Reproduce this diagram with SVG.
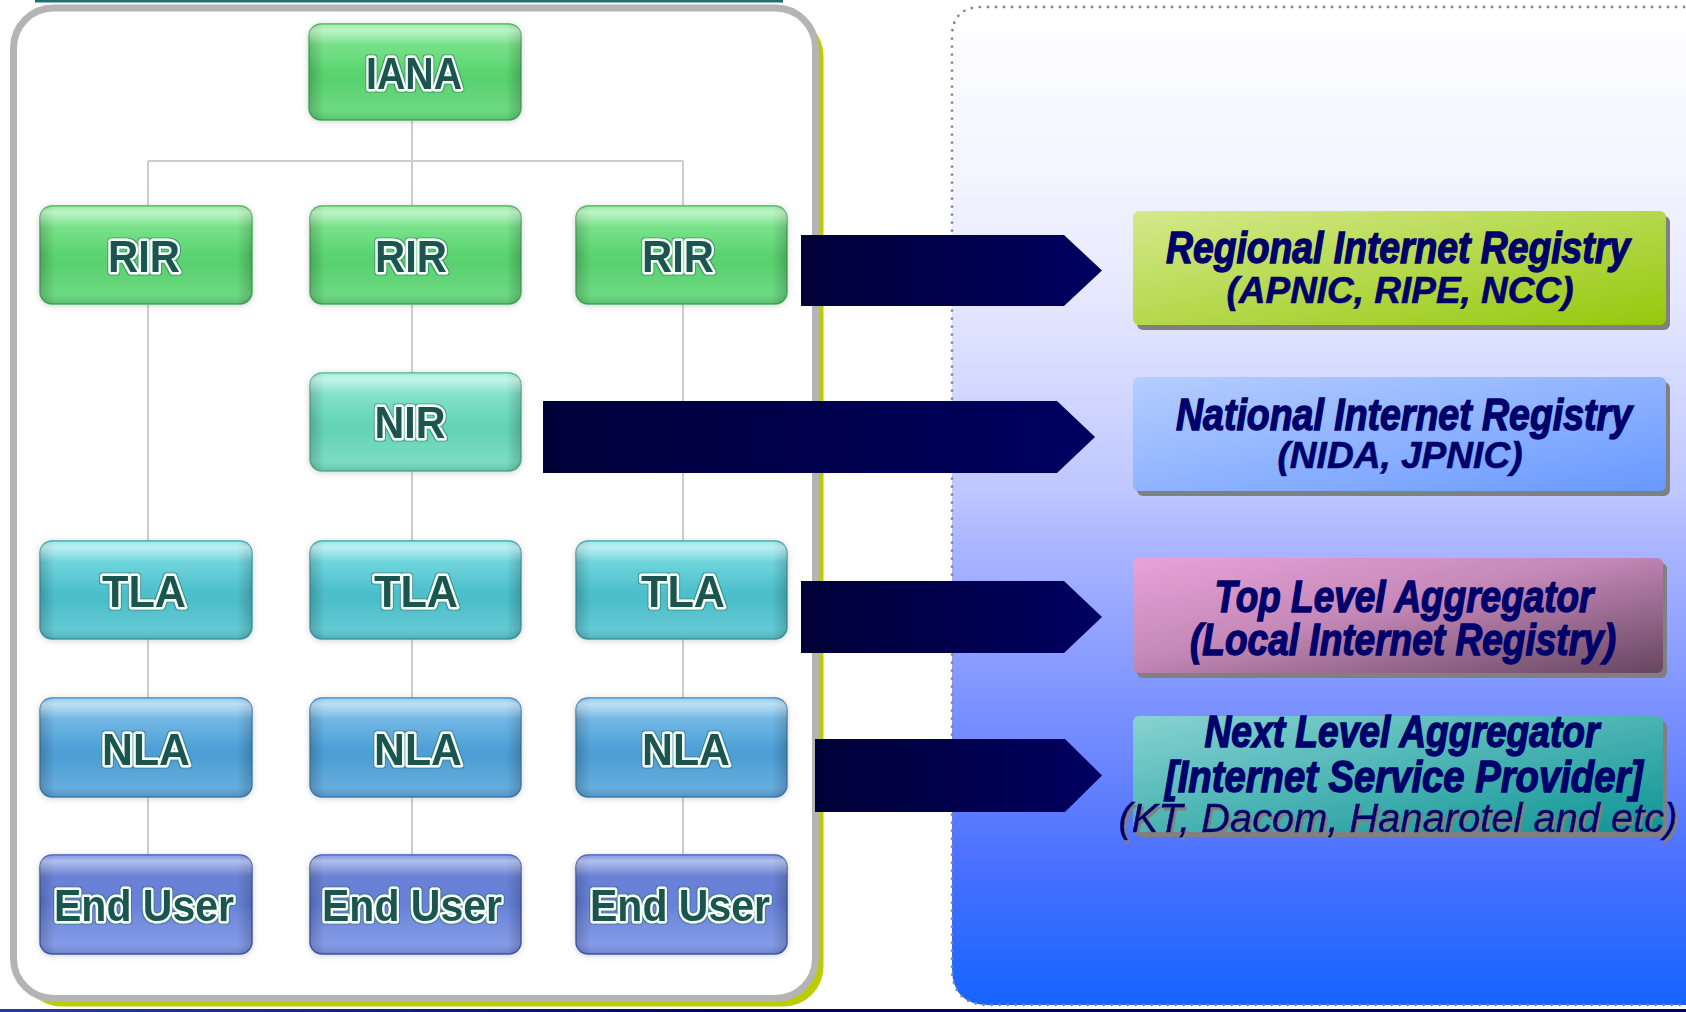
<svg xmlns="http://www.w3.org/2000/svg" width="1686" height="1012" viewBox="0 0 1686 1012">
<defs>
<style>
.nlbl{font-family:"Liberation Sans",Arial,sans-serif;font-weight:bold;font-size:44px;fill:#1c5550;stroke:#f4fff6;stroke-width:5px;paint-order:stroke;stroke-linejoin:round;text-anchor:middle;filter:url(#halo)}
.tl{font-family:"Liberation Sans",Arial,sans-serif;font-weight:bold;font-style:italic;fill:#00006a;stroke:#00006a;stroke-width:1.4px;text-anchor:middle}
.t1{font-size:44px}
.t2{font-size:36px;stroke-width:0.6px}
.t3{font-size:40px;font-weight:normal;stroke-width:0.5px;filter:url(#tshadow)}
.tree{stroke:#cdcdcd;stroke-width:2;fill:none}
.arrow{fill:url(#gArrow)}
.bshadow{fill:#808080}
.gloss{fill:url(#gGloss)}
.edge{fill:url(#gEdge)}
</style>
<filter id="halo" x="-15%" y="-30%" width="130%" height="160%">
<feMorphology in="SourceAlpha" operator="dilate" radius="1.2" result="d"/>
<feFlood flood-color="#2b6e66" flood-opacity="0.55"/>
<feComposite in2="d" operator="in" result="o"/>
<feMerge><feMergeNode in="o"/><feMergeNode in="SourceGraphic"/></feMerge>
</filter>
<filter id="tshadow" x="-5%" y="-20%" width="110%" height="150%">
<feDropShadow dx="2" dy="3" stdDeviation="0.3" flood-color="#808080" flood-opacity="1"/>
</filter>
<filter id="glow" x="-10%" y="-15%" width="120%" height="130%">
<feDropShadow dx="0" dy="1" stdDeviation="3" flood-color="#9a9a9a" flood-opacity="0.45"/>
</filter>
<linearGradient id="gGloss" x1="0" y1="0" x2="0" y2="1">
<stop offset="0" stop-color="#fff" stop-opacity="0.15"/>
<stop offset="0.06" stop-color="#fff" stop-opacity="0.5"/>
<stop offset="0.22" stop-color="#fff" stop-opacity="0.12"/>
<stop offset="0.5" stop-color="#fff" stop-opacity="0"/>
<stop offset="0.9" stop-color="#fff" stop-opacity="0.08"/>
<stop offset="1" stop-color="#000" stop-opacity="0.12"/>
</linearGradient>
<linearGradient id="gEdge" x1="0" y1="0" x2="1" y2="0">
<stop offset="0" stop-color="#000" stop-opacity="0.2"/>
<stop offset="0.07" stop-color="#000" stop-opacity="0"/>
<stop offset="0.93" stop-color="#000" stop-opacity="0"/>
<stop offset="1" stop-color="#000" stop-opacity="0.2"/>
</linearGradient>
<linearGradient id="gGreen" x1="0" y1="0" x2="0" y2="1">
<stop offset="0" stop-color="#86ee96"/><stop offset="0.2" stop-color="#66de7a"/><stop offset="0.6" stop-color="#56d06c"/><stop offset="1" stop-color="#64d87a"/>
</linearGradient>
<linearGradient id="gMint" x1="0" y1="0" x2="0" y2="1">
<stop offset="0" stop-color="#92ecd6"/><stop offset="0.2" stop-color="#72dfc2"/><stop offset="0.6" stop-color="#62d2b4"/><stop offset="1" stop-color="#74dcc0"/>
</linearGradient>
<linearGradient id="gCyan" x1="0" y1="0" x2="0" y2="1">
<stop offset="0" stop-color="#86e6ec"/><stop offset="0.2" stop-color="#5ccfd8"/><stop offset="0.6" stop-color="#48bcc8"/><stop offset="1" stop-color="#5ac8d2"/>
</linearGradient>
<linearGradient id="gSky" x1="0" y1="0" x2="0" y2="1">
<stop offset="0" stop-color="#84c8f0"/><stop offset="0.2" stop-color="#5eaee2"/><stop offset="0.6" stop-color="#4a9cd4"/><stop offset="1" stop-color="#5ca8dc"/>
</linearGradient>
<linearGradient id="gBlue" x1="0" y1="0" x2="0" y2="1">
<stop offset="0" stop-color="#6a86e0"/><stop offset="0.2" stop-color="#5570d0"/><stop offset="0.6" stop-color="#6c86dc"/><stop offset="1" stop-color="#7c96e6"/>
</linearGradient>
<linearGradient id="gArrow" x1="0" y1="0" x2="1" y2="0">
<stop offset="0" stop-color="#000038"/><stop offset="1" stop-color="#000062"/>
</linearGradient>
<linearGradient id="gPanel" gradientUnits="userSpaceOnUse" x1="0" y1="7" x2="0" y2="1005">
<stop offset="0" stop-color="#ffffff"/>
<stop offset="0.17" stop-color="#f3f4ff"/>
<stop offset="0.29" stop-color="#e6e8ff"/>
<stop offset="0.49" stop-color="#bdc6ff"/>
<stop offset="0.53" stop-color="#adb8ff"/>
<stop offset="0.69" stop-color="#7f94ff"/>
<stop offset="0.86" stop-color="#4a70ff"/>
<stop offset="1" stop-color="#1464ff"/>
</linearGradient>
<linearGradient id="gBRir" x1="0" y1="0" x2="1" y2="1">
<stop offset="0" stop-color="#d4e98c"/><stop offset="1" stop-color="#96c80c"/>
</linearGradient>
<linearGradient id="gBNir" x1="0" y1="0" x2="1" y2="1">
<stop offset="0" stop-color="#b6ceff"/><stop offset="1" stop-color="#6898ff"/>
</linearGradient>
<linearGradient id="gBTla" x1="0" y1="0" x2="1" y2="1">
<stop offset="0" stop-color="#e8a2d8"/><stop offset="0.45" stop-color="#c488b8"/><stop offset="1" stop-color="#664660"/>
</linearGradient>
<linearGradient id="gBNla" x1="0" y1="0" x2="1" y2="1">
<stop offset="0" stop-color="#88d2d2"/><stop offset="1" stop-color="#0e9494"/>
</linearGradient>
<linearGradient id="gBottom" x1="0" y1="0" x2="1" y2="0">
<stop offset="0" stop-color="#22409a"/><stop offset="0.45" stop-color="#000060"/><stop offset="1" stop-color="#000060"/>
</linearGradient>
</defs>

<rect width="1686" height="1012" fill="#ffffff"/>

<!-- right panel -->
<g id="right-panel">
<path d="M1700 7 H982 Q952 7 952 37 V968 Q952 1005 989 1005 H1700 Z" fill="url(#gPanel)" stroke="#858585" stroke-width="2.8" stroke-dasharray="0 8" stroke-linecap="round"/>
</g>

<!-- bottom & top lines -->
<rect x="0" y="1009" width="1686" height="3" fill="url(#gBottom)"/>
<rect x="35" y="0" width="748" height="2.5" fill="#1f7070"/>

<!-- left panel -->
<g id="left-panel">
<rect x="21.5" y="16" width="802" height="990.5" rx="40" fill="#bccc00"/>
<rect x="13.5" y="8" width="802" height="990.5" rx="40" fill="#ffffff" stroke="#b4b4b4" stroke-width="7"/>
</g>

<!-- connectors -->
<g id="connectors">
<g id="tree-lines" class="tree">
<path d="M412 120 V161 M148 161 H683 M148 161 V855 M412 161 V855 M683 161 V855"/>
</g>
<g id="block-arrows">
<polygon class="arrow" points="801,235 1064,235 1102,270.5 1064,306 801,306"/>
<polygon class="arrow" points="543,401 1057,401 1095,437 1057,473 543,473"/>
<polygon class="arrow" points="801,581 1064,581 1102,617 1064,653 801,653"/>
<polygon class="arrow" points="815,739 1065,739 1102,775.5 1065,812 815,812"/>
</g>
</g>

<!-- tree nodes -->
<g id="node-iana" filter="url(#glow)">
<rect x="309" y="24" width="212" height="96" rx="12" fill="url(#gGreen)" stroke="#44b45c" stroke-width="1.5"/>
<rect x="309" y="24" width="212" height="96" rx="12" class="edge"/>
<rect x="309" y="24" width="212" height="96" rx="12" class="gloss"/>
<text class="nlbl" x="414" y="89" textLength="96" lengthAdjust="spacingAndGlyphs">IANA</text>
</g>
<g id="node-rir-1" filter="url(#glow)">
<rect x="40" y="206" width="212" height="98" rx="12" fill="url(#gGreen)" stroke="#44b45c" stroke-width="1.5"/>
<rect x="40" y="206" width="212" height="98" rx="12" class="edge"/>
<rect x="40" y="206" width="212" height="98" rx="12" class="gloss"/>
<text class="nlbl" x="144" y="272" textLength="72" lengthAdjust="spacingAndGlyphs">RIR</text>
</g>
<g id="node-rir-2" filter="url(#glow)">
<rect x="310" y="206" width="211" height="98" rx="12" fill="url(#gGreen)" stroke="#44b45c" stroke-width="1.5"/>
<rect x="310" y="206" width="211" height="98" rx="12" class="edge"/>
<rect x="310" y="206" width="211" height="98" rx="12" class="gloss"/>
<text class="nlbl" x="411" y="272" textLength="72" lengthAdjust="spacingAndGlyphs">RIR</text>
</g>
<g id="node-rir-3" filter="url(#glow)">
<rect x="576" y="206" width="211" height="98" rx="12" fill="url(#gGreen)" stroke="#44b45c" stroke-width="1.5"/>
<rect x="576" y="206" width="211" height="98" rx="12" class="edge"/>
<rect x="576" y="206" width="211" height="98" rx="12" class="gloss"/>
<text class="nlbl" x="678" y="272" textLength="72" lengthAdjust="spacingAndGlyphs">RIR</text>
</g>
<g id="node-nir" filter="url(#glow)">
<rect x="310" y="373" width="211" height="98" rx="12" fill="url(#gMint)" stroke="#4cb89c" stroke-width="1.5"/>
<rect x="310" y="373" width="211" height="98" rx="12" class="edge"/>
<rect x="310" y="373" width="211" height="98" rx="12" class="gloss"/>
<text class="nlbl" x="410" y="438" textLength="71" lengthAdjust="spacingAndGlyphs">NIR</text>
</g>
<g id="node-tla-1" filter="url(#glow)">
<rect x="40" y="541" width="212" height="98" rx="12" fill="url(#gCyan)" stroke="#38a4b2" stroke-width="1.5"/>
<rect x="40" y="541" width="212" height="98" rx="12" class="edge"/>
<rect x="40" y="541" width="212" height="98" rx="12" class="gloss"/>
<text class="nlbl" x="144" y="607" textLength="84" lengthAdjust="spacingAndGlyphs">TLA</text>
</g>
<g id="node-tla-2" filter="url(#glow)">
<rect x="310" y="541" width="211" height="98" rx="12" fill="url(#gCyan)" stroke="#38a4b2" stroke-width="1.5"/>
<rect x="310" y="541" width="211" height="98" rx="12" class="edge"/>
<rect x="310" y="541" width="211" height="98" rx="12" class="gloss"/>
<text class="nlbl" x="416" y="607" textLength="84" lengthAdjust="spacingAndGlyphs">TLA</text>
</g>
<g id="node-tla-3" filter="url(#glow)">
<rect x="576" y="541" width="211" height="98" rx="12" fill="url(#gCyan)" stroke="#38a4b2" stroke-width="1.5"/>
<rect x="576" y="541" width="211" height="98" rx="12" class="edge"/>
<rect x="576" y="541" width="211" height="98" rx="12" class="gloss"/>
<text class="nlbl" x="683" y="607" textLength="84" lengthAdjust="spacingAndGlyphs">TLA</text>
</g>
<g id="node-nla-1" filter="url(#glow)">
<rect x="40" y="698" width="212" height="99" rx="12" fill="url(#gSky)" stroke="#3a86c0" stroke-width="1.5"/>
<rect x="40" y="698" width="212" height="99" rx="12" class="edge"/>
<rect x="40" y="698" width="212" height="99" rx="12" class="gloss"/>
<text class="nlbl" x="146" y="765" textLength="88" lengthAdjust="spacingAndGlyphs">NLA</text>
</g>
<g id="node-nla-2" filter="url(#glow)">
<rect x="310" y="698" width="211" height="99" rx="12" fill="url(#gSky)" stroke="#3a86c0" stroke-width="1.5"/>
<rect x="310" y="698" width="211" height="99" rx="12" class="edge"/>
<rect x="310" y="698" width="211" height="99" rx="12" class="gloss"/>
<text class="nlbl" x="418" y="765" textLength="88" lengthAdjust="spacingAndGlyphs">NLA</text>
</g>
<g id="node-nla-3" filter="url(#glow)">
<rect x="576" y="698" width="211" height="99" rx="12" fill="url(#gSky)" stroke="#3a86c0" stroke-width="1.5"/>
<rect x="576" y="698" width="211" height="99" rx="12" class="edge"/>
<rect x="576" y="698" width="211" height="99" rx="12" class="gloss"/>
<text class="nlbl" x="686" y="765" textLength="88" lengthAdjust="spacingAndGlyphs">NLA</text>
</g>
<g id="node-enduser-1" filter="url(#glow)">
<rect x="40" y="855" width="212" height="99" rx="12" fill="url(#gBlue)" stroke="#3c58b8" stroke-width="1.5"/>
<rect x="40" y="855" width="212" height="99" rx="12" class="edge"/>
<rect x="40" y="855" width="212" height="99" rx="12" class="gloss"/>
<text class="nlbl" x="144" y="921" textLength="180" lengthAdjust="spacingAndGlyphs">End User</text>
</g>
<g id="node-enduser-2" filter="url(#glow)">
<rect x="310" y="855" width="211" height="99" rx="12" fill="url(#gBlue)" stroke="#3c58b8" stroke-width="1.5"/>
<rect x="310" y="855" width="211" height="99" rx="12" class="edge"/>
<rect x="310" y="855" width="211" height="99" rx="12" class="gloss"/>
<text class="nlbl" x="412" y="921" textLength="180" lengthAdjust="spacingAndGlyphs">End User</text>
</g>
<g id="node-enduser-3" filter="url(#glow)">
<rect x="576" y="855" width="211" height="99" rx="12" fill="url(#gBlue)" stroke="#3c58b8" stroke-width="1.5"/>
<rect x="576" y="855" width="211" height="99" rx="12" class="edge"/>
<rect x="576" y="855" width="211" height="99" rx="12" class="gloss"/>
<text class="nlbl" x="680" y="921" textLength="180" lengthAdjust="spacingAndGlyphs">End User</text>
</g>

<!-- description boxes -->
<g id="box-rir">
<rect class="bshadow" x="1137" y="216" width="533" height="114" rx="6"/>
<rect x="1133" y="211" width="533" height="114" rx="6" fill="url(#gBRir)"/>
<text class="tl t1" x="1398" y="263" textLength="464" lengthAdjust="spacingAndGlyphs">Regional Internet Registry</text>
<text class="tl t2" x="1400" y="303" textLength="347" lengthAdjust="spacingAndGlyphs">(APNIC, RIPE, NCC)</text>
</g>
<g id="box-nir">
<rect class="bshadow" x="1137" y="382" width="533" height="114" rx="6"/>
<rect x="1133" y="377" width="533" height="114" rx="6" fill="url(#gBNir)"/>
<text class="tl t1" x="1404" y="430" textLength="456" lengthAdjust="spacingAndGlyphs">National Internet Registry</text>
<text class="tl t2" x="1400" y="468" textLength="245" lengthAdjust="spacingAndGlyphs">(NIDA, JPNIC)</text>
</g>
<g id="box-tla">
<rect class="bshadow" x="1137" y="563" width="530" height="115" rx="6"/>
<rect x="1133" y="558" width="530" height="115" rx="6" fill="url(#gBTla)"/>
<text class="tl t1" x="1404" y="612" textLength="379" lengthAdjust="spacingAndGlyphs">Top Level Aggregator</text>
<text class="tl t1" x="1403" y="655" textLength="426" lengthAdjust="spacingAndGlyphs">(Local Internet Registry)</text>
</g>
<g id="box-nla">
<rect class="bshadow" x="1137" y="721" width="530" height="116" rx="6"/>
<rect x="1133" y="716" width="530" height="116" rx="6" fill="url(#gBNla)"/>
<text class="tl t1" x="1402" y="747" textLength="395" lengthAdjust="spacingAndGlyphs">Next Level Aggregator</text>
<text class="tl t1" x="1404" y="792" textLength="478" lengthAdjust="spacingAndGlyphs">[Internet Service Provider]</text>
<text class="tl t3" x="1398" y="832" textLength="559" lengthAdjust="spacingAndGlyphs">(KT, Dacom, Hanarotel and etc)</text>
</g>
</svg>
